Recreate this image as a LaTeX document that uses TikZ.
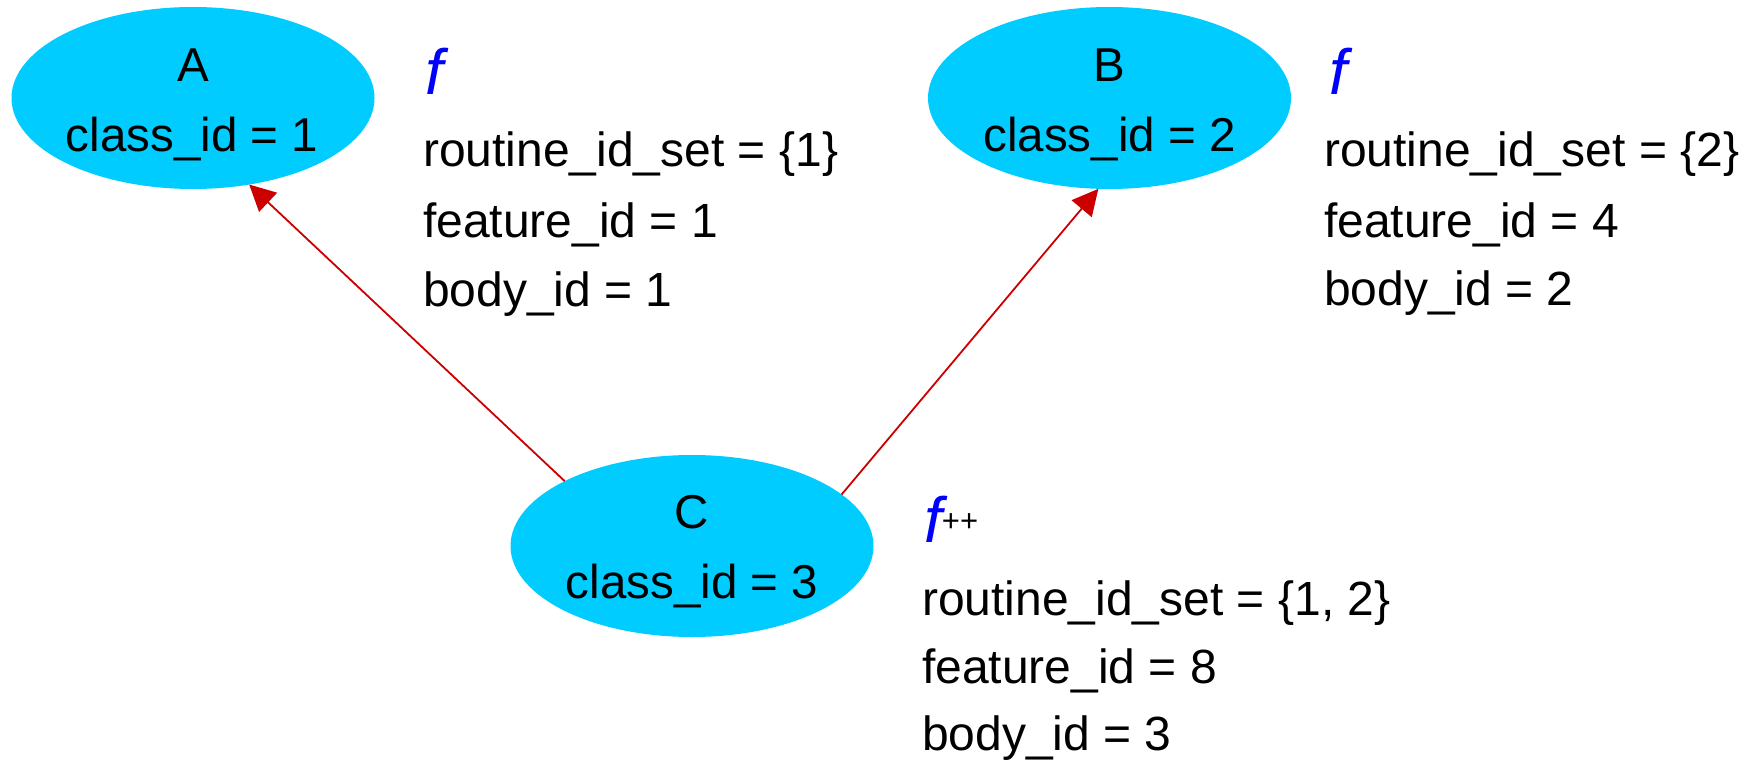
\documentclass[tikz,border=0pt]{standalone}
\usepackage{fontspec}
\setmainfont{Liberation Sans}
\usetikzlibrary{shapes.geometric,arrows.meta}
\definecolor{nodefill}{RGB}{0,204,255}
\definecolor{edgered}{RGB}{204,0,0}
\definecolor{fblue}{RGB}{0,0,255}
\begin{document}
\begin{tikzpicture}[x=1pt,y=-1pt,
  ell/.style={ellipse, fill=nodefill, draw=none, minimum width=363pt, minimum height=182pt, inner sep=0pt, outer sep=0pt},
  lbl/.style={anchor=base, inner sep=0pt, font=\fontsize{47.5}{56}\selectfont},
  ann/.style={anchor=base west, inner sep=0pt, font=\fontsize{48}{56}\selectfont},
  fsym/.style={anchor=base west, inner sep=0pt, text=fblue, font=\fontsize{64}{70}\selectfont\itshape},
  arrowline/.style={draw=edgered, line width=1.8pt, -{Triangle[length=26pt,width=26pt]}}
]
\useasboundingbox (0,0) rectangle (1755,762);

% nodes
\node[ell] (A) at (193,98) {};
\node[lbl] (Aname) at (193,82) {A};
\node[lbl] (Aid) at (192,152) {class\_id = 1};

\node[ell] (B) at (1109.5,98) {};
\node[lbl] (Bname) at (1109.5,82) {B};
\node[lbl] (Bid) at (1109.5,152) {class\_id = 2};

\node[ell] (C) at (692,546) {};
\node[lbl] (Cname) at (692,528) {C};
\node[lbl] (Cid) at (692,598) {class\_id = 3};

% annotations A
\node[fsym] (fA) at (425,95) {f};
\node[ann] (rA) at (423,167) {routine\_id\_set = \{1\}};
\node[ann] (feA) at (423,237) {feature\_id = 1};
\node[ann] (bA) at (423,306) {body\_id = 1};

% annotations B
\node[fsym] (fB) at (1329,95) {f};
\node[ann] (rB) at (1324,167) {routine\_id\_set = \{2\}};
\node[ann] (feB) at (1324,237) {feature\_id = 4};
\node[ann] (bB) at (1324,305) {body\_id = 2};

% annotations C
\node[fsym] (fC) at (924,542) {f\raisebox{11pt}{\color{black}\upshape\fontsize{31}{31}\selectfont ++}};
\node[ann] (rC) at (922,615) {routine\_id\_set = \{1, 2\}};
\node[ann] (feC) at (922,683) {feature\_id = 8};
\node[ann] (bC) at (922,750) {body\_id = 3};

% connectors
\draw[arrowline] (C.153.3) -- (A.303.4);
\draw[arrowline] (C.19.5) -- (B.263.4);
\end{tikzpicture}
\end{document}
